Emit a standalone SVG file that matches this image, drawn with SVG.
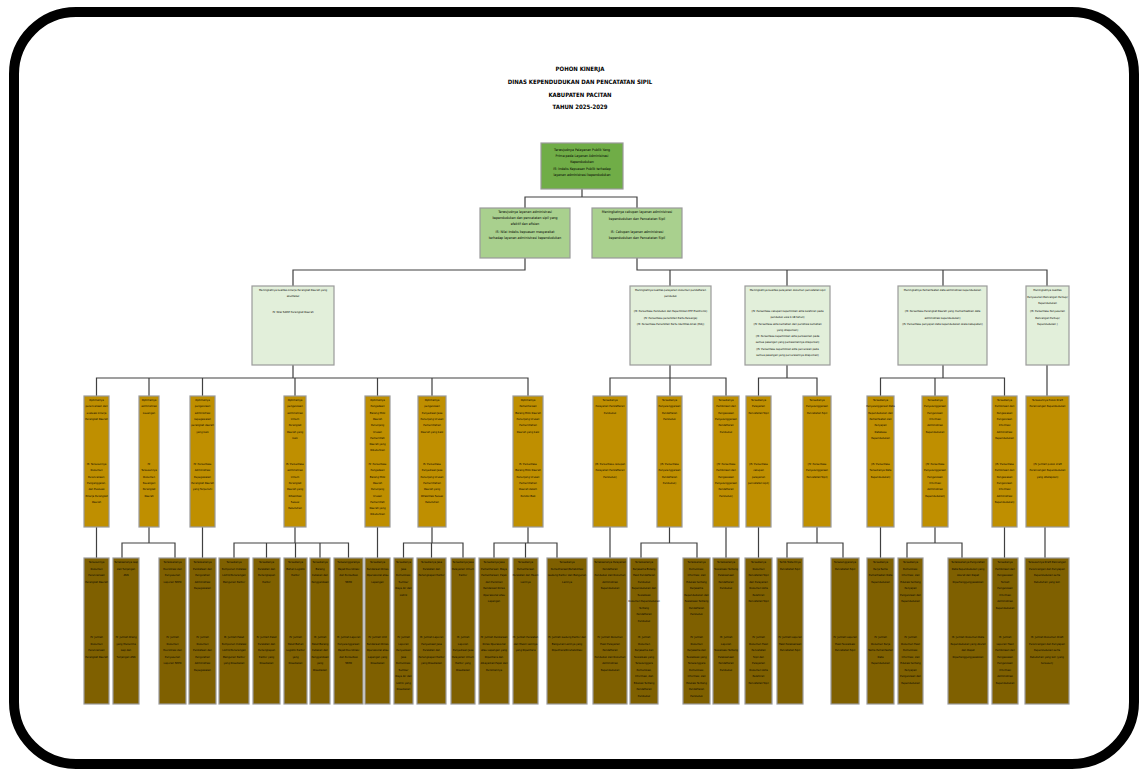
<svg xmlns="http://www.w3.org/2000/svg" width="1148" height="775" viewBox="0 0 1148 775">
<style>
.frame{fill:#fff;stroke:#000;stroke-width:10}
.b{stroke:#9a9a9a;stroke-width:1.2}
.l1{fill:#70AD47}.l2{fill:#A9D08E}.l3{fill:#E2EFDA}.l4{fill:#BF8F00}.l5{fill:#7F6000}
.t{font-family:'DejaVu Sans Condensed','DejaVu Sans',sans-serif;font-stretch:condensed;font-size:2.8px;fill:#000;text-anchor:middle}
.t2{font-size:3.5px}
.h{font-family:'DejaVu Sans Condensed','DejaVu Sans',sans-serif;font-stretch:condensed;font-size:6px;font-weight:bold;fill:#000;text-anchor:middle}
.c{fill:none;stroke:#404040;stroke-width:1.2}
</style>
<rect class="frame" x="14" y="12" width="1120" height="752" rx="62"/>
<g id="title">
<text class="h" x="580" y="71">POHON KINERJA</text>
<text class="h" x="580" y="84">DINAS KEPENDUDUKAN DAN PENCATATAN SIPIL</text>
<text class="h" x="580" y="97">KABUPATEN PACITAN</text>
<text class="h" x="580" y="109">TAHUN 2025-2029</text>
</g>
<g id="connectors">
<path class="c" d="M582 189V197M525 208V197H637V208"/>
<path class="c" d="M525 258V270H293V286M637 258V270H1047V286M670 270V286M787 270V286M943 270V286"/>
<path class="c" d="M293 365V378M96.5 396V378H528V396M149 378V396M202.5 378V396M295 378V396M377.5 378V396M432 378V396"/>
<path class="c" d="M670 365V378M610 396V378H726V396M670 378V396"/>
<path class="c" d="M787 365V378M758.5 396V378H817V396"/>
<path class="c" d="M943 365V378M880.5 396V378H1004.5V396M935 378V396"/>
<path class="c" d="M1047 365V396"/>
<path class="c" d="M96.5 527V558M149 527V543M122 558V543H175V558M202.5 527V558"/>
<path class="c" d="M295 527V543M234 558V543H348.5V558M266.5 543V558M295.5 543V558M320 543V558"/>
<path class="c" d="M377.5 527V558M432 527V543M403.5 558V543H463V558M431.5 543V558"/>
<path class="c" d="M528 527V543M494 558V543H557V558M525.5 543V558"/>
<path class="c" d="M610 527V558M669.5 527V543M641 558V543H697V558M726 527V558M758.5 527V558"/>
<path class="c" d="M817 527V543M787 558V543H843V558M880.5 527V558M935 527V543M907 558V543H962V558M1004.5 527V558M1045 527V558"/>
</g>
<g id="n-top"><rect class="b l1" x="541" y="143" width="82" height="46"/>
<text class="t t2"><tspan x="582" y="151">Terwujudnya Pelayanan Publik Yang</tspan><tspan x="582" y="157">Prima pada Layanan Administrasi</tspan><tspan x="582" y="163">Kependudukan</tspan><tspan x="582" y="170">IS: Indeks Kepuasan Publik terhadap</tspan><tspan x="582" y="176">layanan administrasi kependudukan</tspan></text></g>
<g id="n-2a"><rect class="b l2" x="480" y="208" width="90" height="50"/>
<text class="t t2"><tspan x="525" y="213">Terwujudnya layanan administrasi</tspan><tspan x="525" y="219">kependudukan dan pencatatan sipil yang</tspan><tspan x="525" y="225">efektif dan efisien</tspan><tspan x="525" y="233">IS: Nilai Indeks kepuasan masyarakat</tspan><tspan x="525" y="239">terhadap layanan administrasi kependudukan</tspan></text></g>
<g id="n-2b"><rect class="b l2" x="592" y="208" width="90" height="50"/>
<text class="t t2"><tspan x="637" y="213">Meningkatnya cakupan layanan administrasi</tspan><tspan x="637" y="220">kependudukan dan Pencatatan Sipil</tspan><tspan x="637" y="233">IS: Cakupan layanan administrasi</tspan><tspan x="637" y="239">kependudukan dan Pencatatan Sipil</tspan></text></g>
<g id="n-3a"><rect class="b l3" x="252" y="286" width="82" height="79"/>
<text class="t"><tspan x="293" y="291">Meningkatnya kualitas kinerja Perangkat Daerah yang</tspan><tspan x="293" y="297">akuntabel</tspan><tspan x="293" y="313">IS: Nilai SAKIP Perangkat Daerah</tspan></text></g>
<g id="n-3b"><rect class="b l3" x="630" y="286" width="81" height="79"/>
<text class="t"><tspan x="670.5" y="291">Meningkatnya kualitas pelayanan dokumen pendaftaran</tspan><tspan x="670.5" y="297">penduduk</tspan><tspan x="670.5" y="312">(IS: Persentase Penduduk dan Kepemilikan KTP Elektronik)</tspan><tspan x="670.5" y="318.5">(IS: Persentase penerbitan Kartu Keluarga)</tspan><tspan x="670.5" y="325">(IS: Persentase Penerbitan Kartu Identitas Anak (KIA))</tspan></text></g>
<g id="n-3c"><rect class="b l3" x="745" y="286" width="85" height="79"/>
<text class="t"><tspan x="787.5" y="291">Meningkatnya kualitas pelayanan dokumen pencatatan sipil</tspan><tspan x="787.5" y="312">(IS: Persentase cakupan kepemilikan akta kelahiran pada</tspan><tspan x="787.5" y="318">penduduk usia 0-18 tahun)</tspan><tspan x="787.5" y="324.5">(IS: Persentase akta kematian dari peristiwa kematian</tspan><tspan x="787.5" y="330.5">yang dilaporkan)</tspan><tspan x="787.5" y="337">(IS: Persentase kepemilikan akta perkawinan pada</tspan><tspan x="787.5" y="343">semua pasangan yang perkawinannya dilaporkan)</tspan><tspan x="787.5" y="349.5">(IS: Persentase kepemilikan akta perceraian pada</tspan><tspan x="787.5" y="355.5">semua pasangan yang perceraiannya dilaporkan)</tspan></text></g>
<g id="n-3d"><rect class="b l3" x="898" y="286" width="89" height="79"/>
<text class="t"><tspan x="942.5" y="291">Meningkatnya Pemanfaatan data administrasi kependudukan</tspan><tspan x="942.5" y="312">(IS: Persentase Perangkat Daerah yang memanfaatkan data</tspan><tspan x="942.5" y="318.5">administrasi kependudukan)</tspan><tspan x="942.5" y="325">(IS: Persentase penyajian data kependudukan skala kabupaten)</tspan></text></g>
<g id="n-3e"><rect class="b l3" x="1026" y="286" width="43" height="79"/>
<text class="t"><tspan x="1047.5" y="291">Meningkatnya kualitas</tspan><tspan x="1047.5" y="297.5">Penyusunan Rancangan Perbup/</tspan><tspan x="1047.5" y="304">Kependudukan</tspan><tspan x="1047.5" y="312">(IS: Persentase Penyusunan</tspan><tspan x="1047.5" y="318.5">Rancangan Perbup/</tspan><tspan x="1047.5" y="325">Kependudukan )</tspan></text></g>
<g id="n-4a1"><rect class="b l4" x="84" y="396" width="25" height="131"/>
<text class="t"><tspan x="96.5" y="401">Optimalnya</tspan><tspan x="96.5" y="407.3">perencanaan dan</tspan><tspan x="96.5" y="413.6">evaluasi kinerja</tspan><tspan x="96.5" y="419.9">Perangkat Daerah</tspan><tspan x="96.5" y="465">IS: Tersusunnya</tspan><tspan x="96.5" y="471.3">Dokumen</tspan><tspan x="96.5" y="477.6">Perencanaan,</tspan><tspan x="96.5" y="483.9">Penganggaran,</tspan><tspan x="96.5" y="490.2">dan Evaluasi</tspan><tspan x="96.5" y="496.5">Kinerja Perangkat</tspan><tspan x="96.5" y="502.8">Daerah</tspan></text></g>
<g id="n-4a2"><rect class="b l4" x="139" y="396" width="20" height="131"/>
<text class="t"><tspan x="149" y="401">Optimalnya</tspan><tspan x="149" y="407.3">administrasi</tspan><tspan x="149" y="413.6">keuangan</tspan><tspan x="149" y="465">IS:</tspan><tspan x="149" y="471.3">Tersusunnya</tspan><tspan x="149" y="477.6">Dokumen</tspan><tspan x="149" y="483.9">Keuangan</tspan><tspan x="149" y="490.2">Perangkat</tspan><tspan x="149" y="496.5">Daerah</tspan></text></g>
<g id="n-4a3"><rect class="b l4" x="190" y="396" width="25" height="131"/>
<text class="t"><tspan x="202.5" y="401">Optimalnya</tspan><tspan x="202.5" y="407.3">pengelolaan</tspan><tspan x="202.5" y="413.6">administrasi</tspan><tspan x="202.5" y="419.9">kepegawaian</tspan><tspan x="202.5" y="426.2">perangkat daerah</tspan><tspan x="202.5" y="432.5">yang baik</tspan><tspan x="202.5" y="465">IS: Persentase</tspan><tspan x="202.5" y="471.3">Administrasi</tspan><tspan x="202.5" y="477.6">Kepegawaian</tspan><tspan x="202.5" y="483.9">Perangkat Daerah</tspan><tspan x="202.5" y="490.2">yang Terpenuhi</tspan></text></g>
<g id="n-4a4"><rect class="b l4" x="284" y="396" width="22" height="131"/>
<text class="t"><tspan x="295" y="401">Optimalnya</tspan><tspan x="295" y="407.3">pengelolaan</tspan><tspan x="295" y="413.6">administrasi</tspan><tspan x="295" y="419.9">Umum</tspan><tspan x="295" y="426.2">Perangkat</tspan><tspan x="295" y="432.5">Daerah yang</tspan><tspan x="295" y="438.8">baik</tspan><tspan x="295" y="465">IS: Persentase</tspan><tspan x="295" y="471.3">administrasi</tspan><tspan x="295" y="477.6">Umum</tspan><tspan x="295" y="483.9">Perangkat</tspan><tspan x="295" y="490.2">Daerah yang</tspan><tspan x="295" y="496.5">Difasilitasi</tspan><tspan x="295" y="502.8">Sesuai</tspan><tspan x="295" y="509.1">Kebutuhan</tspan></text></g>
<g id="n-4a5"><rect class="b l4" x="365" y="396" width="25" height="131"/>
<text class="t"><tspan x="377.5" y="401">Optimalnya</tspan><tspan x="377.5" y="407.3">Pengadaan</tspan><tspan x="377.5" y="413.6">Barang Milik</tspan><tspan x="377.5" y="419.9">Daerah</tspan><tspan x="377.5" y="426.2">Penunjang</tspan><tspan x="377.5" y="432.5">Urusan</tspan><tspan x="377.5" y="438.8">Pemerintah</tspan><tspan x="377.5" y="445.1">Daerah yang</tspan><tspan x="377.5" y="451.4">Dibutuhkan</tspan><tspan x="377.5" y="465">IS: Persentase</tspan><tspan x="377.5" y="471.3">Pengadaan</tspan><tspan x="377.5" y="477.6">Barang Milik</tspan><tspan x="377.5" y="483.9">Daerah</tspan><tspan x="377.5" y="490.2">Penunjang</tspan><tspan x="377.5" y="496.5">Urusan</tspan><tspan x="377.5" y="502.8">Pemerintah</tspan><tspan x="377.5" y="509.1">Daerah yang</tspan><tspan x="377.5" y="515.4">Dibutuhkan</tspan></text></g>
<g id="n-4a6"><rect class="b l4" x="418" y="396" width="28" height="131"/>
<text class="t"><tspan x="432" y="401">Optimalnya</tspan><tspan x="432" y="407.3">pengelolaan</tspan><tspan x="432" y="413.6">Penyediaan Jasa</tspan><tspan x="432" y="419.9">Penunjang Urusan</tspan><tspan x="432" y="426.2">Pemerintahan</tspan><tspan x="432" y="432.5">Daerah yang baik</tspan><tspan x="432" y="465">IS: Persentase</tspan><tspan x="432" y="471.3">Penyediaan Jasa</tspan><tspan x="432" y="477.6">Penunjang Urusan</tspan><tspan x="432" y="483.9">Pemerintahan</tspan><tspan x="432" y="490.2">Daerah yang</tspan><tspan x="432" y="496.5">Difasilitasi Sesuai</tspan><tspan x="432" y="502.8">Kebutuhan</tspan></text></g>
<g id="n-4a7"><rect class="b l4" x="513" y="396" width="30" height="131"/>
<text class="t"><tspan x="528" y="401">Optimalnya</tspan><tspan x="528" y="407.3">Pemeliharaan</tspan><tspan x="528" y="413.6">Barang Milik Daerah</tspan><tspan x="528" y="419.9">Penunjang Urusan</tspan><tspan x="528" y="426.2">Pemerintahan</tspan><tspan x="528" y="432.5">Daerah yang baik</tspan><tspan x="528" y="465">IS: Persentase</tspan><tspan x="528" y="471.3">Barang Milik Daerah</tspan><tspan x="528" y="477.6">Penunjang Urusan</tspan><tspan x="528" y="483.9">Pemerintahan</tspan><tspan x="528" y="490.2">Daerah dalam</tspan><tspan x="528" y="496.5">Kondisi Baik</tspan></text></g>
<g id="n-4b1"><rect class="b l4" x="593" y="396" width="34" height="131"/>
<text class="t"><tspan x="610" y="401">Tersedianya</tspan><tspan x="610" y="407.3">Pelayanan Pendaftaran</tspan><tspan x="610" y="413.6">Penduduk</tspan><tspan x="610" y="465">(IS: Persentase cakupan</tspan><tspan x="610" y="471.3">Pelayanan Pendaftaran</tspan><tspan x="610" y="477.6">Penduduk)</tspan></text></g>
<g id="n-4b2"><rect class="b l4" x="657" y="396" width="25" height="131"/>
<text class="t"><tspan x="669.5" y="401">Tersedianya</tspan><tspan x="669.5" y="407.3">Penyelenggaraan</tspan><tspan x="669.5" y="413.6">Pendaftaran</tspan><tspan x="669.5" y="419.9">Penduduk</tspan><tspan x="669.5" y="465">(IS: Persentase</tspan><tspan x="669.5" y="471.3">Penyelenggaraan</tspan><tspan x="669.5" y="477.6">Pendaftaran</tspan><tspan x="669.5" y="483.9">Penduduk)</tspan></text></g>
<g id="n-4b3"><rect class="b l4" x="713" y="396" width="26" height="131"/>
<text class="t"><tspan x="726" y="401">Tersedianya</tspan><tspan x="726" y="407.3">Pembinaan dan</tspan><tspan x="726" y="413.6">Pengawasan</tspan><tspan x="726" y="419.9">Penyelenggaraan</tspan><tspan x="726" y="426.2">Pendaftaran</tspan><tspan x="726" y="432.5">Penduduk</tspan><tspan x="726" y="465">(IS: Persentase</tspan><tspan x="726" y="471.3">Pembinaan dan</tspan><tspan x="726" y="477.6">Pengawasan</tspan><tspan x="726" y="483.9">Penyelenggaraan</tspan><tspan x="726" y="490.2">Pendaftaran</tspan><tspan x="726" y="496.5">Penduduk)</tspan></text></g>
<g id="n-4c1"><rect class="b l4" x="746" y="396" width="25" height="131"/>
<text class="t"><tspan x="758.5" y="401">Tersedianya</tspan><tspan x="758.5" y="407.3">Pelayanan</tspan><tspan x="758.5" y="413.6">Pencatatan Sipil</tspan><tspan x="758.5" y="465">(IS: Persentase</tspan><tspan x="758.5" y="471.3">cakupan</tspan><tspan x="758.5" y="477.6">pelayanan</tspan><tspan x="758.5" y="483.9">pencatatan sipil)</tspan></text></g>
<g id="n-4c2"><rect class="b l4" x="803" y="396" width="28" height="131"/>
<text class="t"><tspan x="817" y="401">Tersedianya</tspan><tspan x="817" y="407.3">Penyelenggaraan</tspan><tspan x="817" y="413.6">Pencatatan Sipil</tspan><tspan x="817" y="465">(IS: Persentase</tspan><tspan x="817" y="471.3">Penyelenggaraan</tspan><tspan x="817" y="477.6">Pencatatan Sipil)</tspan></text></g>
<g id="n-4d1"><rect class="b l4" x="867" y="396" width="27" height="131"/>
<text class="t"><tspan x="880.5" y="401">Tersedianya</tspan><tspan x="880.5" y="407.3">Penyelenggaraan Data</tspan><tspan x="880.5" y="413.6">Kependudukan dan</tspan><tspan x="880.5" y="419.9">Pemanfaatan dan</tspan><tspan x="880.5" y="426.2">Penyajian</tspan><tspan x="880.5" y="432.5">Database</tspan><tspan x="880.5" y="438.8">Kependudukan</tspan><tspan x="880.5" y="465">(IS: Persentase</tspan><tspan x="880.5" y="471.3">Tersedianya Data</tspan><tspan x="880.5" y="477.6">Kependudukan)</tspan></text></g>
<g id="n-4d2"><rect class="b l4" x="922" y="396" width="26" height="131"/>
<text class="t"><tspan x="935" y="401">Tersedianya</tspan><tspan x="935" y="407.3">Penyelenggaraan</tspan><tspan x="935" y="413.6">Pengelolaan</tspan><tspan x="935" y="419.9">Informasi</tspan><tspan x="935" y="426.2">Administrasi</tspan><tspan x="935" y="432.5">Kependudukan</tspan><tspan x="935" y="465">(IS: Persentase</tspan><tspan x="935" y="471.3">Penyelenggaraan</tspan><tspan x="935" y="477.6">Pengelolaan</tspan><tspan x="935" y="483.9">Informasi</tspan><tspan x="935" y="490.2">Administrasi</tspan><tspan x="935" y="496.5">Kependudukan)</tspan></text></g>
<g id="n-4d3"><rect class="b l4" x="992" y="396" width="25" height="131"/>
<text class="t"><tspan x="1004.5" y="401">Tersedianya</tspan><tspan x="1004.5" y="407.3">Pembinaan dan</tspan><tspan x="1004.5" y="413.6">Pengawasan</tspan><tspan x="1004.5" y="419.9">Pengelolaan</tspan><tspan x="1004.5" y="426.2">Informasi</tspan><tspan x="1004.5" y="432.5">Administrasi</tspan><tspan x="1004.5" y="438.8">Kependudukan</tspan><tspan x="1004.5" y="465">(IS: Persentase</tspan><tspan x="1004.5" y="471.3">Pembinaan dan</tspan><tspan x="1004.5" y="477.6">Pengawasan</tspan><tspan x="1004.5" y="483.9">Pengelolaan</tspan><tspan x="1004.5" y="490.2">Informasi</tspan><tspan x="1004.5" y="496.5">Administrasi</tspan><tspan x="1004.5" y="502.8">Kependudukan)</tspan></text></g>
<g id="n-4e1"><rect class="b l4" x="1026" y="396" width="43" height="131"/>
<text class="t"><tspan x="1047.5" y="401">Tersusunnya Pokok Draft</tspan><tspan x="1047.5" y="407.3">Perancangan Kependudukan</tspan><tspan x="1047.5" y="465">(IS: Jumlah pokok draft</tspan><tspan x="1047.5" y="471.3">Perancangan Kependudukan</tspan><tspan x="1047.5" y="477.6">yang ditetapkan)</tspan></text></g>
<g id="n-5b1"><rect class="b l5" x="84" y="558" width="25" height="146"/>
<text class="t"><tspan x="96.5" y="563">Tersusunnya</tspan><tspan x="96.5" y="569.5">Dokumen</tspan><tspan x="96.5" y="576">Perencanaan</tspan><tspan x="96.5" y="582.5">Perangkat Daerah</tspan><tspan x="96.5" y="638">IS: Jumlah</tspan><tspan x="96.5" y="644.5">Dokumen</tspan><tspan x="96.5" y="651">Perencanaan</tspan><tspan x="96.5" y="657.5">Perangkat Daerah</tspan></text></g>
<g id="n-5b2"><rect class="b l5" x="113" y="558" width="26" height="146"/>
<text class="t"><tspan x="126" y="563">Terlaksananya Gaji</tspan><tspan x="126" y="569.5">dan Tunjangan</tspan><tspan x="126" y="576">ASN</tspan><tspan x="126" y="638">IS: Jumlah Orang</tspan><tspan x="126" y="644.5">yang Menerima</tspan><tspan x="126" y="651">Gaji dan</tspan><tspan x="126" y="657.5">Tunjangan ASN</tspan></text></g>
<g id="n-5b3"><rect class="b l5" x="159" y="558" width="27" height="146"/>
<text class="t"><tspan x="172.5" y="563">Terlaksananya</tspan><tspan x="172.5" y="569.5">Koordinasi dan</tspan><tspan x="172.5" y="576">Penyusunan</tspan><tspan x="172.5" y="582.5">Laporan SKPD</tspan><tspan x="172.5" y="638">IS: Jumlah</tspan><tspan x="172.5" y="644.5">Dokumen</tspan><tspan x="172.5" y="651">Koordinasi dan</tspan><tspan x="172.5" y="657.5">Penyusunan</tspan><tspan x="172.5" y="664">Laporan SKPD</tspan></text></g>
<g id="n-5b4"><rect class="b l5" x="189" y="558" width="27" height="146"/>
<text class="t"><tspan x="202.5" y="563">Terlaksananya</tspan><tspan x="202.5" y="569.5">Pendataan dan</tspan><tspan x="202.5" y="576">Pengolahan</tspan><tspan x="202.5" y="582.5">Administrasi</tspan><tspan x="202.5" y="589">Kepegawaian</tspan><tspan x="202.5" y="638">IS: Jumlah</tspan><tspan x="202.5" y="644.5">Dokumen</tspan><tspan x="202.5" y="651">Pendataan dan</tspan><tspan x="202.5" y="657.5">Pengolahan</tspan><tspan x="202.5" y="664">Administrasi</tspan><tspan x="202.5" y="670.5">Kepegawaian</tspan></text></g>
<g id="n-5b5"><rect class="b l5" x="219" y="558" width="30" height="146"/>
<text class="t"><tspan x="234" y="563">Tersedianya</tspan><tspan x="234" y="569.5">Komponen Instalasi</tspan><tspan x="234" y="576">Listrik/Penerangan</tspan><tspan x="234" y="582.5">Bangunan Kantor</tspan><tspan x="234" y="638">IS: Jumlah Paket</tspan><tspan x="234" y="644.5">Komponen Instalasi</tspan><tspan x="234" y="651">Listrik/Penerangan</tspan><tspan x="234" y="657.5">Bangunan Kantor</tspan><tspan x="234" y="664">yang Disediakan</tspan></text></g>
<g id="n-5b6"><rect class="b l5" x="253" y="558" width="27" height="146"/>
<text class="t"><tspan x="266.5" y="563">Tersedianya</tspan><tspan x="266.5" y="569.5">Peralatan dan</tspan><tspan x="266.5" y="576">Perlengkapan</tspan><tspan x="266.5" y="582.5">Kantor</tspan><tspan x="266.5" y="638">IS: Jumlah Paket</tspan><tspan x="266.5" y="644.5">Peralatan dan</tspan><tspan x="266.5" y="651">Perlengkapan</tspan><tspan x="266.5" y="657.5">Kantor yang</tspan><tspan x="266.5" y="664">Disediakan</tspan></text></g>
<g id="n-5b7"><rect class="b l5" x="284" y="558" width="23" height="146"/>
<text class="t"><tspan x="295.5" y="563">Tersedianya</tspan><tspan x="295.5" y="569.5">Bahan Logistik</tspan><tspan x="295.5" y="576">Kantor</tspan><tspan x="295.5" y="638">IS: Jumlah</tspan><tspan x="295.5" y="644.5">Paket Bahan</tspan><tspan x="295.5" y="651">Logistik Kantor</tspan><tspan x="295.5" y="657.5">yang</tspan><tspan x="295.5" y="664">Disediakan</tspan></text></g>
<g id="n-5b8"><rect class="b l5" x="310" y="558" width="20" height="146"/>
<text class="t"><tspan x="320" y="563">Tersedianya</tspan><tspan x="320" y="569.5">Barang</tspan><tspan x="320" y="576">Cetakan dan</tspan><tspan x="320" y="582.5">Penggandaan</tspan><tspan x="320" y="638">IS: Jumlah</tspan><tspan x="320" y="644.5">Paket Barang</tspan><tspan x="320" y="651">Cetakan dan</tspan><tspan x="320" y="657.5">Penggandaan</tspan><tspan x="320" y="664">yang</tspan><tspan x="320" y="670.5">Disediakan</tspan></text></g>
<g id="n-5b9"><rect class="b l5" x="334" y="558" width="29" height="146"/>
<text class="t"><tspan x="348.5" y="563">Terselenggaranya</tspan><tspan x="348.5" y="569.5">Rapat Koordinasi</tspan><tspan x="348.5" y="576">dan Konsultasi</tspan><tspan x="348.5" y="582.5">SKPD</tspan><tspan x="348.5" y="638">IS: Jumlah Laporan</tspan><tspan x="348.5" y="644.5">Penyelenggaraan</tspan><tspan x="348.5" y="651">Rapat Koordinasi</tspan><tspan x="348.5" y="657.5">dan Konsultasi</tspan><tspan x="348.5" y="664">SKPD</tspan></text></g>
<g id="n-5b10"><rect class="b l5" x="365" y="558" width="25" height="146"/>
<text class="t"><tspan x="377.5" y="563">Tersedianya</tspan><tspan x="377.5" y="569.5">Kendaraan Dinas</tspan><tspan x="377.5" y="576">Operasional atau</tspan><tspan x="377.5" y="582.5">Lapangan</tspan><tspan x="377.5" y="638">IS: Jumlah Unit</tspan><tspan x="377.5" y="644.5">Kendaraan Dinas</tspan><tspan x="377.5" y="651">Operasional atau</tspan><tspan x="377.5" y="657.5">Lapangan yang</tspan><tspan x="377.5" y="664">Disediakan</tspan></text></g>
<g id="n-5b11"><rect class="b l5" x="394" y="558" width="19" height="146"/>
<text class="t"><tspan x="403.5" y="563">Tersedianya</tspan><tspan x="403.5" y="569.5">Jasa</tspan><tspan x="403.5" y="576">Komunikasi,</tspan><tspan x="403.5" y="582.5">Sumber</tspan><tspan x="403.5" y="589">Daya Air dan</tspan><tspan x="403.5" y="595.5">Listrik</tspan><tspan x="403.5" y="638">IS: Jumlah</tspan><tspan x="403.5" y="644.5">Laporan</tspan><tspan x="403.5" y="651">Penyediaan</tspan><tspan x="403.5" y="657.5">Jasa</tspan><tspan x="403.5" y="664">Komunikasi,</tspan><tspan x="403.5" y="670.5">Sumber</tspan><tspan x="403.5" y="677">Daya Air dan</tspan><tspan x="403.5" y="683.5">Listrik yang</tspan><tspan x="403.5" y="690">Disediakan</tspan></text></g>
<g id="n-5b12"><rect class="b l5" x="417" y="558" width="29" height="146"/>
<text class="t"><tspan x="431.5" y="563">Tersedianya Jasa</tspan><tspan x="431.5" y="569.5">Peralatan dan</tspan><tspan x="431.5" y="576">Perlengkapan Kantor</tspan><tspan x="431.5" y="638">IS: Jumlah Laporan</tspan><tspan x="431.5" y="644.5">Penyediaan Jasa</tspan><tspan x="431.5" y="651">Peralatan dan</tspan><tspan x="431.5" y="657.5">Perlengkapan Kantor</tspan><tspan x="431.5" y="664">yang Disediakan</tspan></text></g>
<g id="n-5b13"><rect class="b l5" x="451" y="558" width="24" height="146"/>
<text class="t"><tspan x="463" y="563">Tersedianya Jasa</tspan><tspan x="463" y="569.5">Pelayanan Umum</tspan><tspan x="463" y="576">Kantor</tspan><tspan x="463" y="638">IS: Jumlah</tspan><tspan x="463" y="644.5">Laporan</tspan><tspan x="463" y="651">Penyediaan Jasa</tspan><tspan x="463" y="657.5">Pelayanan Umum</tspan><tspan x="463" y="664">Kantor yang</tspan><tspan x="463" y="670.5">Disediakan</tspan></text></g>
<g id="n-5b14"><rect class="b l5" x="479" y="558" width="30" height="146"/>
<text class="t"><tspan x="494" y="563">Tersedianya Jasa</tspan><tspan x="494" y="569.5">Pemeliharaan, Biaya</tspan><tspan x="494" y="576">Pemeliharaan, Pajak</tspan><tspan x="494" y="582.5">dan Perizinan</tspan><tspan x="494" y="589">Kendaraan Dinas</tspan><tspan x="494" y="595.5">Operasional atau</tspan><tspan x="494" y="602">Lapangan</tspan><tspan x="494" y="638">IS: Jumlah Kendaraan</tspan><tspan x="494" y="644.5">Dinas Operasional</tspan><tspan x="494" y="651">atau Lapangan yang</tspan><tspan x="494" y="657.5">Dipelihara dan</tspan><tspan x="494" y="664">dibayarkan Pajak dan</tspan><tspan x="494" y="670.5">Perizinannya</tspan></text></g>
<g id="n-5b15"><rect class="b l5" x="513" y="558" width="25" height="146"/>
<text class="t"><tspan x="525.5" y="563">Tersedianya</tspan><tspan x="525.5" y="569.5">Pemeliharaan</tspan><tspan x="525.5" y="576">Peralatan dan Mesin</tspan><tspan x="525.5" y="582.5">Lainnya</tspan><tspan x="525.5" y="638">IS: Jumlah Peralatan</tspan><tspan x="525.5" y="644.5">dan Mesin Lainnya</tspan><tspan x="525.5" y="651">yang Dipelihara</tspan></text></g>
<g id="n-5b16"><rect class="b l5" x="547" y="558" width="40" height="146"/>
<text class="t"><tspan x="567" y="563">Tersedianya</tspan><tspan x="567" y="569.5">Pemeliharaan/Rehabilitasi</tspan><tspan x="567" y="576">Gedung Kantor dan Bangunan</tspan><tspan x="567" y="582.5">Lainnya</tspan><tspan x="567" y="638">IS: Jumlah Gedung Kantor dan</tspan><tspan x="567" y="644.5">Bangunan Lainnya yang</tspan><tspan x="567" y="651">Dipelihara/Direhabilitasi</tspan></text></g>
<g id="n-5c1"><rect class="b l5" x="593" y="558" width="34" height="146"/>
<text class="t"><tspan x="610" y="563">Terlaksananya Pelayanan</tspan><tspan x="610" y="569.5">Pendaftaran</tspan><tspan x="610" y="576">Penduduk dan Dokumen</tspan><tspan x="610" y="582.5">Administrasi</tspan><tspan x="610" y="589">Kependudukan</tspan><tspan x="610" y="638">IS: Jumlah Dokumen</tspan><tspan x="610" y="644.5">Hasil Pelayanan</tspan><tspan x="610" y="651">Pendaftaran</tspan><tspan x="610" y="657.5">Penduduk dan Dokumen</tspan><tspan x="610" y="664">Administrasi</tspan><tspan x="610" y="670.5">Kependudukan</tspan></text></g>
<g id="n-5c2"><rect class="b l5" x="630" y="558" width="28" height="146"/>
<text class="t"><tspan x="644" y="563">Terlaksananya</tspan><tspan x="644" y="569.5">Kerjasama Bidang</tspan><tspan x="644" y="576">Hasil Pendaftaran</tspan><tspan x="644" y="582.5">Penduduk</tspan><tspan x="644" y="589">Kependudukan dan</tspan><tspan x="644" y="595.5">Sosialisasi</tspan><tspan x="644" y="602">Dokumen Kependudukan</tspan><tspan x="644" y="608.5">Tentang</tspan><tspan x="644" y="615">Pendaftaran</tspan><tspan x="644" y="621.5">Penduduk</tspan><tspan x="644" y="638">IS: Jumlah</tspan><tspan x="644" y="644.5">Dokumen</tspan><tspan x="644" y="651">Kerjasama dan</tspan><tspan x="644" y="657.5">Sosialisasi yang</tspan><tspan x="644" y="664">Terselenggara</tspan><tspan x="644" y="670.5">Komunikasi,</tspan><tspan x="644" y="677">Informasi, dan</tspan><tspan x="644" y="683.5">Edukasi Tentang</tspan><tspan x="644" y="690">Pendaftaran</tspan><tspan x="644" y="696.5">Penduduk</tspan></text></g>
<g id="n-5c3"><rect class="b l5" x="683" y="558" width="27" height="146"/>
<text class="t"><tspan x="696.5" y="563">Terlaksananya</tspan><tspan x="696.5" y="569.5">Komunikasi,</tspan><tspan x="696.5" y="576">Informasi, dan</tspan><tspan x="696.5" y="582.5">Edukasi tentang</tspan><tspan x="696.5" y="589">Kerjasama</tspan><tspan x="696.5" y="595.5">Kependudukan dan</tspan><tspan x="696.5" y="602">Sosialisasi Tentang</tspan><tspan x="696.5" y="608.5">Pendaftaran</tspan><tspan x="696.5" y="615">Penduduk</tspan><tspan x="696.5" y="638">IS: Jumlah</tspan><tspan x="696.5" y="644.5">Dokumen</tspan><tspan x="696.5" y="651">Kerjasama dan</tspan><tspan x="696.5" y="657.5">Sosialisasi yang</tspan><tspan x="696.5" y="664">Terselenggara</tspan><tspan x="696.5" y="670.5">Komunikasi,</tspan><tspan x="696.5" y="677">Informasi, dan</tspan><tspan x="696.5" y="683.5">Edukasi Tentang</tspan><tspan x="696.5" y="690">Pendaftaran</tspan><tspan x="696.5" y="696.5">Penduduk</tspan></text></g>
<g id="n-5c4"><rect class="b l5" x="713" y="558" width="26" height="146"/>
<text class="t"><tspan x="726" y="563">Terlaksananya</tspan><tspan x="726" y="569.5">Sosialisasi Tentang</tspan><tspan x="726" y="576">Pelaksanaan</tspan><tspan x="726" y="582.5">Pendaftaran</tspan><tspan x="726" y="589">Penduduk</tspan><tspan x="726" y="638">IS: Jumlah</tspan><tspan x="726" y="644.5">Laporan</tspan><tspan x="726" y="651">Sosialisasi Tentang</tspan><tspan x="726" y="657.5">Pelaksanaan</tspan><tspan x="726" y="664">Pendaftaran</tspan><tspan x="726" y="670.5">Penduduk</tspan></text></g>
<g id="n-5c5"><rect class="b l5" x="745" y="558" width="27" height="146"/>
<text class="t"><tspan x="758.5" y="563">Tersedianya</tspan><tspan x="758.5" y="569.5">Dokumen</tspan><tspan x="758.5" y="576">Pencatatan Sipil</tspan><tspan x="758.5" y="582.5">dan Pelayanan</tspan><tspan x="758.5" y="589">Dokumen Akta</tspan><tspan x="758.5" y="595.5">Kelahiran</tspan><tspan x="758.5" y="602">Pencatatan Sipil</tspan><tspan x="758.5" y="638">IS: Jumlah</tspan><tspan x="758.5" y="644.5">Dokumen Hasil</tspan><tspan x="758.5" y="651">Pencatatan</tspan><tspan x="758.5" y="657.5">Sipil dan</tspan><tspan x="758.5" y="664">Pelayanan</tspan><tspan x="758.5" y="670.5">Dokumen Akta</tspan><tspan x="758.5" y="677">Kelahiran</tspan><tspan x="758.5" y="683.5">Pencatatan Sipil</tspan></text></g>
<g id="n-5c6"><rect class="b l5" x="777" y="558" width="26" height="146"/>
<text class="t"><tspan x="790" y="563">Tertib Sistemnya</tspan><tspan x="790" y="569.5">Pencatatan Sipil</tspan><tspan x="790" y="638">IS: Jumlah Laporan</tspan><tspan x="790" y="644.5">Hasil Pelaksanaan</tspan><tspan x="790" y="651">Pencatatan Sipil</tspan></text></g>
<g id="n-5c7"><rect class="b l5" x="831" y="558" width="28" height="146"/>
<text class="t"><tspan x="845" y="563">Terselenggaranya</tspan><tspan x="845" y="569.5">Pencatatan Sipil</tspan><tspan x="845" y="638">IS: Jumlah Laporan</tspan><tspan x="845" y="644.5">Hasil Sosialisasi</tspan><tspan x="845" y="651">Pencatatan Sipil</tspan></text></g>
<g id="n-5c8"><rect class="b l5" x="867" y="558" width="27" height="146"/>
<text class="t"><tspan x="880.5" y="563">Tersedianya</tspan><tspan x="880.5" y="569.5">Kerja Sama</tspan><tspan x="880.5" y="576">Pemanfaatan Data</tspan><tspan x="880.5" y="582.5">Kependudukan</tspan><tspan x="880.5" y="638">IS: Jumlah</tspan><tspan x="880.5" y="644.5">Dokumen Kerja</tspan><tspan x="880.5" y="651">Sama Pemanfaatan</tspan><tspan x="880.5" y="657.5">Data</tspan><tspan x="880.5" y="664">Kependudukan</tspan></text></g>
<g id="n-5c9"><rect class="b l5" x="898" y="558" width="25" height="146"/>
<text class="t"><tspan x="910.5" y="563">Tersedianya</tspan><tspan x="910.5" y="569.5">Komunikasi,</tspan><tspan x="910.5" y="576">Informasi, dan</tspan><tspan x="910.5" y="582.5">Edukasi tentang</tspan><tspan x="910.5" y="589">Penyajian</tspan><tspan x="910.5" y="595.5">Pengelolaan dan</tspan><tspan x="910.5" y="602">Kependudukan</tspan><tspan x="910.5" y="638">IS: Jumlah</tspan><tspan x="910.5" y="644.5">Dokumen Hasil</tspan><tspan x="910.5" y="651">Komunikasi,</tspan><tspan x="910.5" y="657.5">Informasi, dan</tspan><tspan x="910.5" y="664">Edukasi tentang</tspan><tspan x="910.5" y="670.5">Penyajian</tspan><tspan x="910.5" y="677">Pengelolaan dan</tspan><tspan x="910.5" y="683.5">Kependudukan</tspan></text></g>
<g id="n-5c10"><rect class="b l5" x="948" y="558" width="40" height="146"/>
<text class="t"><tspan x="968" y="563">Terlaksananya Pengolahan</tspan><tspan x="968" y="569.5">Data Kependudukan yang</tspan><tspan x="968" y="576">Akurat dan Dapat</tspan><tspan x="968" y="582.5">Dipertanggungjawabkan</tspan><tspan x="968" y="638">IS: Jumlah Dokumen Data</tspan><tspan x="968" y="644.5">Kependudukan yang Akurat</tspan><tspan x="968" y="651">dan Dapat</tspan><tspan x="968" y="657.5">Dipertanggungjawabkan</tspan></text></g>
<g id="n-5c11"><rect class="b l5" x="992" y="558" width="26" height="146"/>
<text class="t"><tspan x="1005" y="563">Tersedianya</tspan><tspan x="1005" y="569.5">Pembinaan dan</tspan><tspan x="1005" y="576">Pengawasan</tspan><tspan x="1005" y="582.5">Terkait</tspan><tspan x="1005" y="589">Pengelolaan</tspan><tspan x="1005" y="595.5">Informasi</tspan><tspan x="1005" y="602">Administrasi</tspan><tspan x="1005" y="608.5">Kependudukan</tspan><tspan x="1005" y="638">IS: Jumlah</tspan><tspan x="1005" y="644.5">Laporan Hasil</tspan><tspan x="1005" y="651">Pembinaan dan</tspan><tspan x="1005" y="657.5">Pengawasan</tspan><tspan x="1005" y="664">Pengelolaan</tspan><tspan x="1005" y="670.5">Informasi</tspan><tspan x="1005" y="677">Administrasi</tspan><tspan x="1005" y="683.5">Kependudukan</tspan></text></g>
<g id="n-5c12"><rect class="b l5" x="1025" y="558" width="44" height="146"/>
<text class="t"><tspan x="1047" y="563">Tersusunnya Draft Rancangan</tspan><tspan x="1047" y="569.5">Perancangan dan Penyiapan</tspan><tspan x="1047" y="576">Kependudukan serta</tspan><tspan x="1047" y="582.5">Kebutuhan yang lain</tspan><tspan x="1047" y="638">IS: Jumlah Dokumen Draft</tspan><tspan x="1047" y="644.5">Perancangan dan Penyiapan</tspan><tspan x="1047" y="651">Kependudukan serta</tspan><tspan x="1047" y="657.5">Kebutuhan yang lain (yang</tspan><tspan x="1047" y="664">tersusun)</tspan></text></g>
</svg>
